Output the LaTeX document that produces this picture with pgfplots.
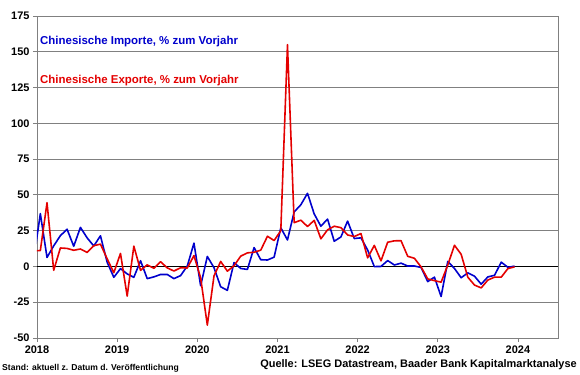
\documentclass[border=0pt]{standalone}
\usepackage{pgfplots}
\pgfplotsset{compat=1.18}
\usepackage{fontspec}
\setmainfont{Liberation Sans}
\definecolor{cnblue}{RGB}{0,0,204}
\definecolor{cnred}{RGB}{228,0,0}
\definecolor{gridgray}{RGB}{128,128,128}
\begin{document}
\begin{tikzpicture}
\useasboundingbox (-37bp,-37bp) rectangle (543bp,338bp);
\begin{axis}[
  at={(0,0)}, anchor=south west,
  scale only axis, width=521bp, height=322bp,
  xmin=0, xmax=78, ymin=-50, ymax=175,
  xtick={0,12,24,36,48,60,72},
  xticklabels={2018,2019,2020,2021,2022,2023,2024},
  ytick={-50,-25,0,25,50,75,100,125,150,175},
  ymajorgrids, grid style={gridgray, line width=0.8pt},
  axis line style={gridgray, line width=0.8pt},
  tick style={gridgray, line width=0.8pt}, major tick length=4bp,
  tick align=outside, xtick pos=bottom, ytick pos=left,
  ticklabel style={font=\bfseries\fontsize{11}{13}\selectfont},
  /pgf/number format/assume math mode=true,
  clip=true,
]
\addplot[black, line width=1.5pt, forget plot] coordinates {(0,0) (78,0)};
\addplot[cnblue, line width=1.6pt, line join=round] coordinates {
(-0.5,4.5)
(0.5,36.9)(1.5,6.3)(2.5,14.4)(3.5,21.5)(4.5,26.0)(5.5,14.1)(6.5,27.3)(7.5,20.0)(8.5,14.3)(9.5,21.4)(10.5,3.0)(11.5,-7.6)
(12.5,-1.5)(13.5,-5.2)(14.5,-7.6)(15.5,4.0)(16.5,-8.5)(17.5,-7.3)(18.5,-5.6)(19.5,-5.6)(20.5,-8.5)(21.5,-6.4)(22.5,0.3)(23.5,16.3)
(24.5,-13.5)(25.5,7.0)(26.5,-0.9)(27.5,-14.2)(28.5,-16.7)(29.5,2.7)(30.5,-1.4)(31.5,-2.1)(32.5,13.2)(33.5,4.7)(34.5,4.5)(35.5,6.5)
(36.5,27.0)(37.5,18.5)(38.5,38.1)(39.5,43.1)(40.5,51.1)(41.5,36.7)(42.5,28.1)(43.5,33.1)(44.5,17.6)(45.5,20.6)(46.5,31.7)(47.5,19.5)
(48.5,20.0)(49.5,11.5)(50.5,-0.1)(51.5,0.0)(52.5,4.1)(53.5,1.0)(54.5,2.3)(55.5,0.3)(56.5,0.3)(57.5,-0.7)(58.5,-10.6)(59.5,-7.5)
(60.5,-21.0)(61.5,3.5)(62.5,-1.4)(63.5,-7.9)(64.5,-4.5)(65.5,-6.8)(66.5,-12.4)(67.5,-7.3)(68.5,-6.2)(69.5,3.0)(70.5,-0.6)(71.5,0.2)
};
\addplot[cnred, line width=1.6pt, line join=round] coordinates {
(-0.5,10.9)
(0.5,11.1)(1.5,44.5)(2.5,-2.7)(3.5,12.9)(4.5,12.6)(5.5,11.3)(6.5,12.2)(7.5,9.8)(8.5,14.5)(9.5,15.6)(10.5,5.4)(11.5,-4.4)
(12.5,9.1)(13.5,-20.7)(14.5,14.2)(15.5,-2.7)(16.5,1.1)(17.5,-1.3)(18.5,3.3)(19.5,-1.0)(20.5,-3.2)(21.5,-0.9)(22.5,-1.1)(23.5,7.6)
(24.5,-8.0)(25.5,-41.0)(26.5,-6.6)(27.5,3.5)(28.5,-3.3)(29.5,0.5)(30.5,7.2)(31.5,9.5)(32.5,9.9)(33.5,11.4)(34.5,21.1)(35.5,18.1)
(36.5,25.0)(37.5,154.9)(38.5,30.6)(39.5,32.3)(40.5,27.9)(41.5,32.2)(42.5,19.3)(43.5,25.6)(44.5,28.1)(45.5,27.1)(46.5,22.0)(47.5,20.9)
(48.5,23.0)(49.5,6.0)(50.5,14.7)(51.5,3.9)(52.5,16.9)(53.5,17.9)(54.5,18.0)(55.5,7.1)(56.5,5.7)(57.5,-0.3)(58.5,-8.7)(59.5,-9.9)
(60.5,-11.0)(61.5,1.0)(62.5,14.8)(63.5,8.5)(64.5,-7.5)(65.5,-13.0)(66.5,-15.0)(67.5,-9.5)(68.5,-7.5)(69.5,-7.5)(70.5,-1.5)(71.5,-0.3)
};
\end{axis}
\node[anchor=base west, inner sep=0, text=cnblue, font=\bfseries\fontsize{11.5}{13}\selectfont] at (3bp,293bp) {Chinesische Importe, \% zum Vorjahr};
\node[anchor=base west, inner sep=0, text=cnred, font=\bfseries\fontsize{11.5}{13}\selectfont] at (3bp,254.7bp) {Chinesische Exporte, \% zum Vorjahr};
\node[anchor=base west, inner sep=0, font=\bfseries\fontsize{8.6}{10}\selectfont] at (-35bp,-32.7bp) {Stand: aktuell z. Datum d. Veröffentlichung};
\node[anchor=base east, inner sep=0, font=\bfseries\fontsize{11}{13}\selectfont] at (540bp,-29bp) {Quelle: LSEG Datastream, Baader Bank Kapitalmarktanalyse};
\end{tikzpicture}
\end{document}
